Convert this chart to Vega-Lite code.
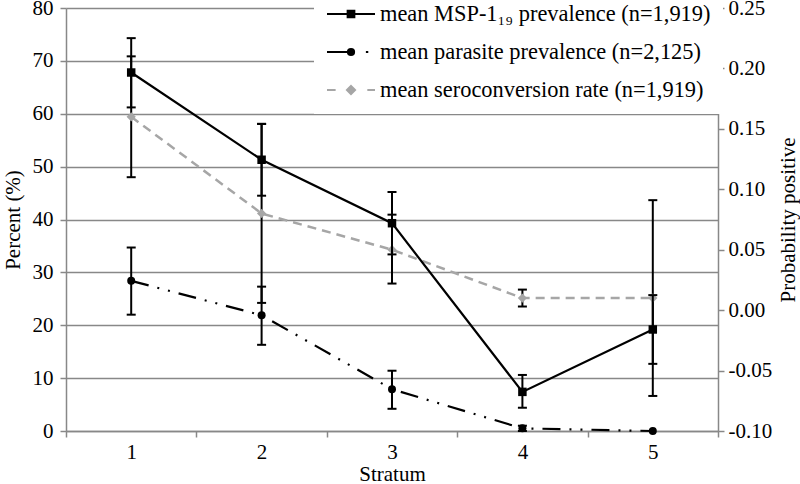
{
  "$schema": "https://vega.github.io/schema/vega-lite/v6.json",
  "width": 652,
  "height": 423,
  "autosize": "none",
  "padding": {"left": 66, "top": 8, "right": 82, "bottom": 53},
  "background": "white",
  "config": {
    "font": "Liberation Serif, Times New Roman, serif",
    "view": {"stroke": null},
    "axis": {
      "labelFont": "Liberation Serif, Times New Roman, serif",
      "titleFont": "Liberation Serif, Times New Roman, serif",
      "labelFontSize": 21,
      "titleFontSize": 21,
      "labelColor": "black",
      "titleColor": "black",
      "titleFontWeight": "normal",
      "domainColor": "#888888",
      "tickColor": "#888888",
      "gridColor": "#888888",
      "domainWidth": 1.5,
      "tickWidth": 1.5,
      "gridWidth": 1.5,
      "tickSize": 6
    }
  },
  "data": {
    "values": [
      {"stratum": "1", "series": "mean MSP-1₁₉ prevalence (n=1,919)", "v": 67.8, "lo": 61.2, "hi": 74.3},
      {"stratum": "2", "series": "mean MSP-1₁₉ prevalence (n=1,919)", "v": 51.3, "lo": 44.5, "hi": 58.1},
      {"stratum": "3", "series": "mean MSP-1₁₉ prevalence (n=1,919)", "v": 39.3, "lo": 33.4, "hi": 45.2},
      {"stratum": "4", "series": "mean MSP-1₁₉ prevalence (n=1,919)", "v": 7.4, "lo": 4.4, "hi": 10.6},
      {"stratum": "5", "series": "mean MSP-1₁₉ prevalence (n=1,919)", "v": 19.2, "lo": 12.7, "hi": 25.7},
      {"stratum": "1", "series": "mean parasite prevalence (n=2,125)", "v": 28.4, "lo": 22.0, "hi": 34.7},
      {"stratum": "2", "series": "mean parasite prevalence (n=2,125)", "v": 21.9, "lo": 16.3, "hi": 27.3},
      {"stratum": "3", "series": "mean parasite prevalence (n=2,125)", "v": 7.9, "lo": 4.2, "hi": 11.4},
      {"stratum": "4", "series": "mean parasite prevalence (n=2,125)", "v": 0.5, "lo": 0.0, "hi": 1.0},
      {"stratum": "5", "series": "mean parasite prevalence (n=2,125)", "v": 0.0, "lo": null, "hi": null},
      {"stratum": "1", "series": "mean seroconversion rate (n=1,919)", "v": 0.160, "lo": 0.110, "hi": 0.210},
      {"stratum": "2", "series": "mean seroconversion rate (n=1,919)", "v": 0.080, "lo": 0.006, "hi": 0.154},
      {"stratum": "3", "series": "mean seroconversion rate (n=1,919)", "v": 0.050, "lo": 0.022, "hi": 0.079},
      {"stratum": "4", "series": "mean seroconversion rate (n=1,919)", "v": 0.010, "lo": 0.003, "hi": 0.017},
      {"stratum": "5", "series": "mean seroconversion rate (n=1,919)", "v": 0.010, "lo": -0.071, "hi": 0.091}
    ]
  },
  "encoding": {
    "x": {
      "field": "stratum",
      "type": "ordinal",
      "scale": {"type": "band", "paddingInner": 0, "paddingOuter": 0},
      "axis": {"title": "Stratum", "labelAngle": 0, "tickBand": "extent", "grid": false, "labelPadding": 4, "titlePadding": 1}
    }
  },
  "layer": [
    {
      "transform": [{"filter": "datum.series == 'mean seroconversion rate (n=1,919)'"}],
      "layer": [
        {
          "mark": {"type": "line", "color": "#a6a6a6", "strokeWidth": 2.5, "strokeDash": [9, 6]},
          "encoding": {
            "y": {"field": "v", "type": "quantitative", "scale": {"domain": [-0.1, 0.25], "nice": false, "zero": false},
              "axis": {"orient": "right", "title": "Probability positive", "values": [-0.1, -0.05, 0, 0.05, 0.1, 0.15, 0.2, 0.25], "labelExpr": "(datum.value < 0 ? '-' : '') + format(abs(datum.value), '.2f')", "grid": false, "labelPadding": 4, "titlePadding": 6, "titleAngle": 270, "titleBaseline": "top"}}
          }
        },
        {
          "mark": {"type": "rule", "color": "black", "strokeWidth": 2},
          "encoding": {
            "y": {"field": "lo", "type": "quantitative", "scale": {"domain": [-0.1, 0.25], "nice": false, "zero": false}, "title": "Probability positive"},
            "y2": {"field": "hi"}
          }
        },
        {
          "mark": {"type": "tick", "color": "black", "size": 9, "thickness": 2, "opacity": 1},
          "encoding": {"y": {"field": "lo", "type": "quantitative", "scale": {"domain": [-0.1, 0.25], "nice": false, "zero": false}, "title": "Probability positive"}}
        },
        {
          "mark": {"type": "tick", "color": "black", "size": 9, "thickness": 2, "opacity": 1},
          "encoding": {"y": {"field": "hi", "type": "quantitative", "scale": {"domain": [-0.1, 0.25], "nice": false, "zero": false}, "title": "Probability positive"}}
        },
        {
          "mark": {"type": "point", "filled": true, "shape": "diamond", "color": "#a6a6a6", "size": 86, "opacity": 1},
          "encoding": {
            "y": {"field": "v", "type": "quantitative", "scale": {"domain": [-0.1, 0.25], "nice": false, "zero": false}, "title": "Probability positive"}
          }
        },
        {
          "transform": [{"filter": "false"}],
          "mark": {"type": "point", "strokeWidth": 2, "opacity": 1},
          "encoding": {
            "y": {"field": "v", "type": "quantitative", "scale": {"domain": [-0.1, 0.25], "nice": false, "zero": false}, "title": "Probability positive"},
            "fill": {"field": "series", "type": "nominal",
              "scale": {"domain": ["mean MSP-1₁₉ prevalence (n=1,919)", "mean parasite prevalence (n=2,125)", "mean seroconversion rate (n=1,919)"], "range": ["black", "black", "#a6a6a6"]},
              "legend": {
                "title": null, "orient": "none", "legendX": 248, "legendY": -31, "fillColor": "white", "padding": 12,
                "symbolSize": 2304, "symbolStrokeWidth": 2, "labelFont": "Liberation Serif, Times New Roman, serif", "labelFontSize": 22.4, "labelColor": "black", "labelLimit": 0, "rowPadding": 1, "labelOffset": 4, "zindex": 1, "symbolOpacity": 1
              }},
            "stroke": {"field": "series", "type": "nominal",
              "scale": {"domain": ["mean MSP-1₁₉ prevalence (n=1,919)", "mean parasite prevalence (n=2,125)", "mean seroconversion rate (n=1,919)"], "range": ["black", "black", "#a6a6a6"]}},
            "shape": {"field": "series", "type": "nominal",
              "scale": {"domain": ["mean MSP-1₁₉ prevalence (n=1,919)", "mean parasite prevalence (n=2,125)", "mean seroconversion rate (n=1,919)"],
                "range": ["M-1,0H1M-0.14,-0.14H0.14V0.14H-0.14Z", "M-1,0H-0.1M0.62,0H0.72M0.13,0A0.13,0.13,0,1,1,-0.13,0A0.13,0.13,0,1,1,0.13,0Z", "M-1,0H-0.64M0.68,0H1M0,-0.17L0.17,0L0,0.17L-0.17,0Z"]}}
          }
        }
      ]
    },
    {
      "transform": [{"filter": "datum.series != 'mean seroconversion rate (n=1,919)'"}],
      "layer": [
        {
          "transform": [{"filter": "datum.series == 'mean MSP-1₁₉ prevalence (n=1,919)'"}],
          "mark": {"type": "line", "color": "black", "strokeWidth": 2.2},
          "encoding": {
            "y": {"field": "v", "type": "quantitative", "scale": {"domain": [0, 80], "nice": false, "zero": false},
              "axis": {"orient": "left", "title": "Percent (%)", "values": [0, 10, 20, 30, 40, 50, 60, 70, 80], "grid": true, "labelPadding": 7, "titlePadding": 9}}
          }
        },
        {
          "transform": [{"filter": "datum.series == 'mean parasite prevalence (n=2,125)'"}],
          "mark": {"type": "line", "color": "black", "strokeWidth": 2.2, "strokeDash": [18, 9, 2, 9, 2, 9]},
          "encoding": {"y": {"field": "v", "type": "quantitative", "scale": {"domain": [0, 80], "nice": false, "zero": false}, "title": "Percent (%)"}}
        },
        {
          "mark": {"type": "rule", "color": "black", "strokeWidth": 2},
          "encoding": {
            "y": {"field": "lo", "type": "quantitative", "scale": {"domain": [0, 80], "nice": false, "zero": false}, "title": "Percent (%)"},
            "y2": {"field": "hi"}
          }
        },
        {
          "mark": {"type": "tick", "color": "black", "size": 9, "thickness": 2, "opacity": 1},
          "encoding": {"y": {"field": "lo", "type": "quantitative", "scale": {"domain": [0, 80], "nice": false, "zero": false}, "title": "Percent (%)"}}
        },
        {
          "mark": {"type": "tick", "color": "black", "size": 9, "thickness": 2, "opacity": 1},
          "encoding": {"y": {"field": "hi", "type": "quantitative", "scale": {"domain": [0, 80], "nice": false, "zero": false}, "title": "Percent (%)"}}
        },
        {
          "transform": [{"filter": "datum.series == 'mean MSP-1₁₉ prevalence (n=1,919)'"}],
          "mark": {"type": "point", "filled": true, "shape": "square", "color": "black", "size": 72, "opacity": 1},
          "encoding": {"y": {"field": "v", "type": "quantitative", "scale": {"domain": [0, 80], "nice": false, "zero": false}, "title": "Percent (%)"}}
        },
        {
          "transform": [{"filter": "datum.series == 'mean parasite prevalence (n=2,125)'"}],
          "mark": {"type": "point", "filled": true, "shape": "circle", "color": "black", "size": 64, "opacity": 1},
          "encoding": {"y": {"field": "v", "type": "quantitative", "scale": {"domain": [0, 80], "nice": false, "zero": false}, "title": "Percent (%)"}}
        }
      ]
    }
  ],
  "resolve": {"scale": {"y": "independent"}, "axis": {"y": "independent"}}
}
